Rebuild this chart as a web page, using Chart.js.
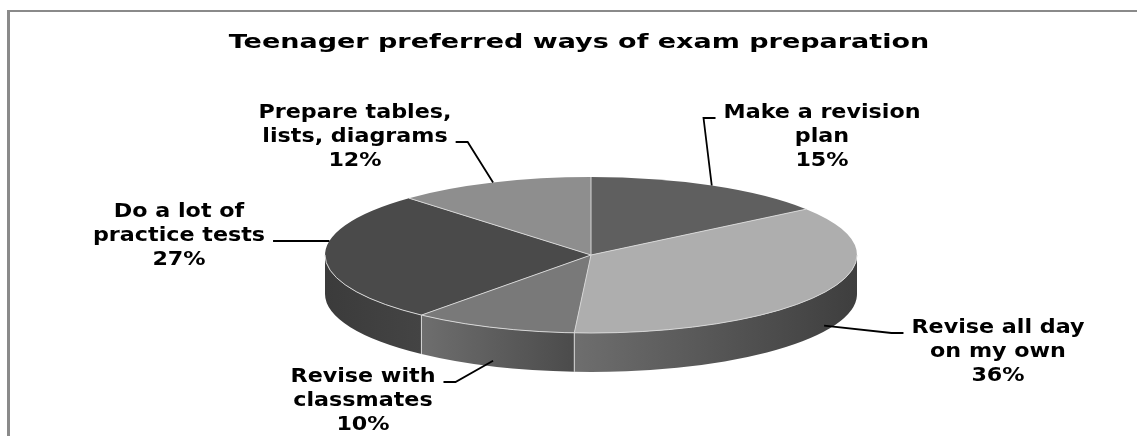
<!DOCTYPE html>
<html>
<head>
<meta charset="utf-8">
<title>Teenager preferred ways of exam preparation</title>
<script src="https://cdn.jsdelivr.net/npm/chart.js@4.4.1/dist/chart.umd.min.js"></script>
<style>
  html, body { margin: 0; padding: 0; background: #fff; }
  #wrap { width: 1137px; height: 436px; }
</style>
</head>
<body>
<div id="wrap"><canvas id="chart" width="1137" height="436"></canvas></div>
<script>
// データ
var categories = [
  ['Make a revision', 'plan'],
  ['Revise all day', 'on my own'],
  ['Revise with', 'classmates'],
  ['Do a lot of', 'practice tests'],
  ['Prepare tables,', 'lists, diagrams']
];
var shares = [15, 36, 10, 27, 12];
var chartTitle = 'Teenager preferred ways of exam preparation';

// 色
var topColors = ['#5f5f5f', '#aeaeae', '#797979', '#4a4a4a', '#8e8e8e'];
var wallColors = [
  ['#3a3a3a', '#3a3a3a'],
  ['#6e6e6e', '#3e3e3e'],
  ['#6e6e6e', '#4b4b4b'],
  ['#3b3b3b', '#444444'],
  ['#555555', '#555555']
];

// ラベル配置 (x: 中心, y: 1行目の中心)
var labelLayout = [
  { x: 822, y: 113, side: 'left', line: 0 },
  { x: 998, y: 328, side: 'left', line: 0 },
  { x: 363, y: 377, side: 'right', line: 0 },
  { x: 179, y: 212, side: 'right', line: 1, straight: true },
  { x: 355, y: 113, side: 'right', line: 1 }
];

var pie = { rx: 266, ry: 78, depth: 39 };
var LABEL_FONT = 'bold 19px "DejaVu Sans"';
var LABEL_STRETCH = 1.17;
var LINE_H = 24;
var TITLE_FONT = 'bold 20px "DejaVu Sans"';
var TITLE_STRETCH = 1.35;

function ellipsePt(cx, cy, a) {
  return { x: cx + pie.rx * Math.cos(a), y: cy + pie.ry * Math.sin(a) };
}

//枠線とタイトル
var frame = {
  id: 'frame',
  beforeDraw: function(chart) {
    var ctx = chart.ctx;
    ctx.save();
    ctx.fillStyle = '#fff';
    ctx.fillRect(0, 0, chart.width, chart.height);
    ctx.fillStyle = '#8a8a8a';
    ctx.fillRect(7, 10, chart.width - 7, 2);
    ctx.fillRect(7, 10, 3, chart.height - 10);
    ctx.restore();
  },
  afterDraw: function(chart) {
    var ctx = chart.ctx;
    ctx.save();
    ctx.font = TITLE_FONT;
    ctx.fillStyle = '#000';
    ctx.textAlign = 'center';
    ctx.textBaseline = 'alphabetic';
    ctx.translate(579, 48);
    ctx.scale(TITLE_STRETCH, 1);
    ctx.fillText(chartTitle, 0, 0);
    ctx.restore();
  }
};

//3D表示（側面＋楕円変形）
var pie3d = {
  id: 'pie3d',
  beforeDatasetsDraw: function(chart) {
    var ctx = chart.ctx;
    var arcs = chart.getDatasetMeta(0).data;
    var cx = arcs[0].x, cy = arcs[0].y, R = arcs[0].outerRadius;
    arcs.forEach(function(arc, i) {
      var b0 = Math.max(arc.startAngle, 0);
      var b1 = Math.min(arc.endAngle, Math.PI);
      if (b0 >= b1) return;
      var p0 = ellipsePt(cx, cy, b0), p1 = ellipsePt(cx, cy, b1);
      var g = ctx.createLinearGradient(p1.x, 0, p0.x, 0);
      g.addColorStop(0, wallColors[i][0]);
      g.addColorStop(1, wallColors[i][1]);
      ctx.beginPath();
      ctx.ellipse(cx, cy, pie.rx, pie.ry, 0, b0, b1);
      ctx.ellipse(cx, cy + pie.depth, pie.rx, pie.ry, 0, b1, b0, true);
      ctx.closePath();
      ctx.fillStyle = g;
      ctx.fill();
    });
    ctx.save();
    ctx.translate(cx, cy);
    ctx.scale(pie.rx / R, pie.ry / R);
    ctx.translate(-cx, -cy);
  },
  afterDatasetsDraw: function(chart) {
    var ctx = chart.ctx;
    ctx.restore();
    var arcs = chart.getDatasetMeta(0).data;
    var cx = arcs[0].x, cy = arcs[0].y;
    ctx.save();
    ctx.strokeStyle = '#d6d6d6';
    ctx.lineWidth = 1;
    arcs.forEach(function(arc) {
      var p = ellipsePt(cx, cy, arc.startAngle);
      ctx.beginPath();
      ctx.moveTo(cx, cy);
      ctx.lineTo(p.x, p.y);
      if (Math.sin(arc.startAngle) > 0) ctx.lineTo(p.x, p.y + pie.depth);
      ctx.stroke();
    });
    ctx.beginPath();
    ctx.ellipse(cx, cy, pie.rx, pie.ry, 0, 0, Math.PI);
    ctx.stroke();
    ctx.restore();
  },
  afterDraw: function(chart) {
    var ctx = chart.ctx;
    var arcs = chart.getDatasetMeta(0).data;
    var cx = arcs[0].x, cy = arcs[0].y;
    var total = shares.reduce(function(a, b) { return a + b; }, 0);
    ctx.save();
    ctx.font = LABEL_FONT;
    ctx.fillStyle = '#000';
    ctx.strokeStyle = '#000';
    ctx.lineWidth = 1.8;
    ctx.textAlign = 'center';
    ctx.textBaseline = 'middle';
    arcs.forEach(function(arc, i) {
      var lay = labelLayout[i];
      var lines = categories[i].concat([Math.round(shares[i] / total * 100) + '%']);
      lines.forEach(function(t, k) {
        ctx.save();
        ctx.translate(lay.x, lay.y + k * LINE_H);
        ctx.scale(LABEL_STRETCH, 1);
        ctx.fillText(t, 0, 0);
        ctx.restore();
      });
      //引き出し線
      var mid = (arc.startAngle + arc.endAngle) / 2;
      var a = ellipsePt(cx, cy, mid);
      if (Math.sin(mid) > 0.05) a.y += pie.depth * 0.85;
      var w = ctx.measureText(lines[lay.line]).width * LABEL_STRETCH;
      var ly = lay.y + lay.line * LINE_H + 5;
      var dir = lay.side === 'left' ? -1 : 1;
      var endX = lay.x + dir * (w / 2 + 8);
      var elbowX = endX + dir * 12;
      if (lay.straight) {
        //水平線：楕円の縁まで
        var s = (ly - cy) / pie.ry;
        a.x = cx - dir * pie.rx * Math.sqrt(Math.max(0, 1 - s * s));
        a.y = ly;
      }
      ctx.beginPath();
      ctx.moveTo(a.x, a.y);
      if (!lay.straight) ctx.lineTo(elbowX, ly);
      ctx.lineTo(endX, ly);
      ctx.stroke();
    });
    ctx.restore();
  }
};

Chart.defaults.font.family = '"DejaVu Sans"';
var chart = new Chart(document.getElementById('chart'), {
  type: 'pie',
  data: {
    labels: categories,
    datasets: [{
      data: shares,
      backgroundColor: topColors,
      borderWidth: 0,
      hoverOffset: 0,
      clip: false
    }]
  },
  options: {
    responsive: false,
    animation: false,
    events: [],
    layout: {
      padding: { left: 441, right: 396, top: 105, bottom: 31 }
    },
    plugins: {
      legend: { display: false },
      tooltip: { enabled: false },
      title: { display: false }
    }
  },
  plugins: [frame, pie3d]
});
</script>
</body>
</html>
